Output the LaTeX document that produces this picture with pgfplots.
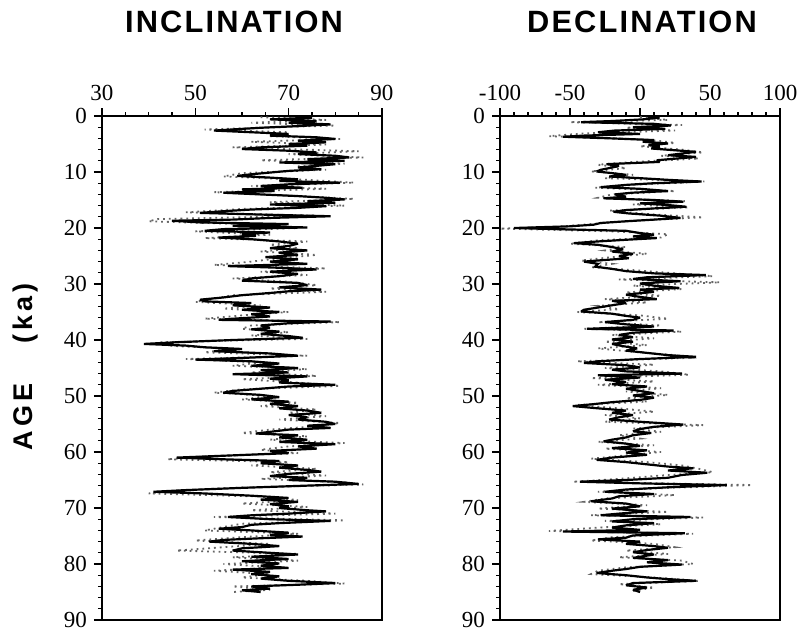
\documentclass[border=0pt]{standalone}
\usepackage{fontspec}
\setmainfont{Liberation Serif}
\newfontfamily\helsp[LetterSpace=7]{Liberation Sans}
\newfontfamily\helspp[LetterSpace=15]{Liberation Sans}
\usepackage{pgfplots}
\usepackage{pgfplotstable}
\pgfplotsset{compat=1.18}

\pgfplotstableread{
a v
0.0 73
0.3 75
0.6 66
0.9 76
1.2 70
1.5 79
1.8 72
2.1 64
2.4 58
2.6 54
2.9 62
3.2 70
3.5 66
3.8 76
4.1 80
4.4 72
4.7 78
5.0 70
5.3 74
5.6 64
5.9 60
6.2 70
6.5 76
6.8 72
7.1 80
7.4 83
7.7 74
8.0 82
8.3 68
8.6 80
8.9 76
9.2 72
9.5 77
9.8 70
10.1 66
10.4 62
10.7 59
11.0 66
11.3 72
11.6 68
11.9 81
12.2 70
12.5 64
12.8 73
13.1 60
13.4 67
13.7 56
14.0 64
14.3 72
14.6 78
14.9 82
15.2 74
15.5 80
15.8 66
16.1 78
16.4 72
16.7 62
17.0 56
17.3 51
17.6 64
17.9 79
18.2 66
18.5 58
18.7 45
19.0 51
19.3 70
19.6 58
19.9 74
20.2 56
20.5 52
20.8 66
21.1 60
21.4 63
21.7 55
22.0 62
22.4 68
22.8 72
23.2 70
23.6 66
24.0 74
24.4 68
24.8 72
25.2 65
25.6 72
26.0 66
26.4 74
26.8 57
27.1 68
27.4 76
27.8 66
28.2 72
28.6 68
29.0 62
29.4 60
29.8 72
30.2 74
30.6 68
31.0 77
31.3 70
31.6 66
32.0 60
32.4 56
32.8 51
33.1 52
33.4 62
33.8 58
34.2 66
34.6 60
35.0 68
35.4 62
35.8 66
36.2 58
36.4 55
36.7 79
37.0 70
37.4 64
37.8 66
38.1 62
38.5 68
38.9 64
39.3 70
39.6 73
40.0 58
40.4 46
40.7 39
41.0 48
41.3 52
41.6 60
42.0 54
42.4 66
42.8 72
43.2 60
43.5 50
43.8 62
44.2 68
44.6 62
45.0 72
45.4 64
45.8 70
46.1 58
46.5 74
46.9 66
47.2 70
47.6 68
48.0 80
48.3 70
48.7 64
49.1 58
49.4 56
49.8 64
50.2 68
50.6 62
51.0 70
51.4 66
51.8 72
52.2 68
52.6 74
53.0 77
53.4 70
53.8 74
54.2 72
54.6 78
55.0 80
55.3 74
55.7 79
56.0 70
56.4 66
56.7 63
57.0 72
57.4 68
57.8 74
58.2 68
58.6 80
59.0 72
59.4 76
59.8 66
60.2 70
60.6 58
61.0 46
61.3 56
61.6 68
62.0 64
62.4 72
62.8 68
63.2 74
63.5 77
63.9 70
64.3 66
64.6 74
65.0 70
65.3 80
65.7 85
66.0 74
66.4 60
66.8 48
67.1 41
67.4 52
67.8 62
68.2 70
68.5 64
68.9 72
69.3 66
69.7 70
70.0 68
70.4 74
70.6 78
71.0 70
71.3 62
71.6 57
72.0 66
72.3 79
72.7 68
73.0 62
73.4 60
73.7 55
74.0 62
74.4 70
74.8 66
75.1 73
75.4 64
75.7 56
76.0 53
76.4 62
76.8 68
77.2 60
77.6 58
78.0 66
78.3 72
78.7 62
79.1 70
79.5 60
79.9 68
80.3 64
80.7 70
81.0 58
81.4 66
81.8 62
82.2 68
82.6 64
83.0 70
83.4 80
83.7 72
84.0 62
84.4 66
84.7 60
85.0 64
}\incmain

\pgfplotstableread{
a v
0.2 64
0.7 78
1.2 62
1.7 80
2.4 52
2.9 70
3.6 66
4.1 81
4.6 62
5.1 78
5.6 58
6.3 85
6.8 70
7.4 86
7.9 64
8.5 82
9.0 72
9.6 78
10.2 60
10.8 56
11.4 74
11.9 84
12.5 62
13.0 78
13.6 54
14.2 70
14.8 84
15.4 66
16.0 82
16.6 60
17.2 48
17.8 76
18.4 42
18.8 40
19.4 64
20.0 72
20.6 50
21.2 66
21.8 52
22.4 74
23.0 66
23.6 72
24.2 64
24.8 76
25.4 68
26.0 62
26.6 54
27.2 78
27.8 64
28.4 74
29.0 58
29.6 70
30.2 76
30.8 66
31.4 78
32.0 58
32.6 54
33.2 50
33.8 64
34.4 56
35.0 70
35.6 60
36.2 52
36.8 81
37.4 62
38.0 60
38.6 70
39.2 62
39.8 74
40.4 42
41.0 44
41.6 58
42.2 52
42.8 74
43.4 48
44.0 64
44.6 58
45.2 74
45.8 62
46.4 76
47.0 60
47.6 72
48.2 81
48.8 60
49.4 54
50.0 66
50.6 60
51.2 72
51.8 64
52.4 76
53.0 70
53.6 78
54.2 68
54.8 81
55.4 76
56.0 66
56.6 60
57.2 74
57.8 66
58.4 82
59.0 70
59.6 64
60.2 72
60.8 52
61.3 44
61.8 70
62.4 62
63.0 76
63.6 66
64.2 78
64.8 64
65.4 82
65.8 86
66.4 58
67.0 44
67.4 40
68.0 66
68.6 72
69.2 60
69.8 74
70.4 62
71.0 80
71.6 54
72.2 82
72.8 60
73.4 56
74.0 52
74.6 72
75.2 60
75.8 50
76.4 66
77.0 56
77.6 46
78.2 72
78.8 58
79.4 72
80.0 56
80.6 68
81.2 54
81.8 66
82.4 60
83.0 74
83.5 82
84.0 58
84.6 66
85.0 58
}\incgray

\pgfplotstableread{
a v
0.0 5
0.3 14
0.6 2
0.9 -20
1.1 -42
1.4 10
1.7 22
2.0 -5
2.3 18
2.6 -18
2.9 -30
3.2 0
3.5 -40
3.7 -55
4.0 -20
4.3 10
4.6 2
4.9 20
5.2 6
5.5 14
5.8 8
6.1 24
6.4 40
6.7 30
7.0 20
7.3 40
7.6 26
7.9 12
8.2 14
8.6 -24
8.9 -15
9.2 -20
9.6 -28
9.9 -31
10.2 -20
10.5 -10
10.8 -22
11.1 0
11.4 20
11.7 44
12.0 10
12.3 -10
12.7 -28
13.0 0
13.4 20
13.7 -6
14.0 -18
14.4 -10
14.7 -26
15.0 10
15.3 31
15.6 0
15.9 20
16.2 33
16.5 10
16.8 -10
17.1 -19
17.4 -8
17.8 15
18.2 29
18.5 10
18.8 -10
19.1 -28
19.4 -33
19.7 -50
20.0 -90
20.2 -60
20.5 -10
20.9 0
21.2 10
21.5 -5
21.8 12
22.1 -10
22.4 -30
22.7 -47
23.0 -30
23.4 -20
23.8 -12
24.2 -20
24.6 -5
25.0 -15
25.4 -8
25.8 -30
26.0 -40
26.4 -30
26.9 -32
27.3 -20
27.7 -10
28.1 10
28.4 47
28.8 5
29.1 -5
29.5 29
29.9 0
30.3 10
30.7 28
31.0 0
31.4 10
31.9 -10
32.3 0
32.7 12
33.0 -20
33.4 -10
33.8 -20
34.2 -30
34.6 -40
34.9 -42
35.3 -20
35.7 -10
36.0 0
36.4 -5
36.8 -25
37.2 -10
37.6 10
38.0 -38
38.3 24
38.7 -5
39.1 -15
39.5 -5
39.9 -20
40.3 -5
40.7 -20
41.1 -12
41.5 -2
41.9 -10
42.3 5
42.7 20
43.0 40
43.4 0
43.8 -30
44.1 -40
44.5 -10
44.9 0
45.3 -20
45.6 -10
46.0 30
46.3 -30
46.7 0
47.1 -25
47.5 -10
47.9 -20
48.3 5
48.7 -10
49.1 0
49.5 10
49.9 -5
50.3 10
50.7 0
51.1 -20
51.5 -35
51.8 -48
52.2 -30
52.6 -10
53.0 -20
53.4 -5
53.8 -15
54.2 -22
54.6 0
55.1 31
55.5 10
55.9 0
56.3 -5
56.6 8
57.0 -5
57.4 -10
57.8 -20
58.1 -26
58.5 -10
58.9 0
59.3 -20
59.7 5
60.1 -10
60.5 5
61.0 -20
61.4 -31
61.8 -10
62.2 5
62.6 20
62.9 38
63.3 20
63.7 48
64.1 30
64.6 20
65.0 -10
65.3 -43
65.6 0
65.9 62
66.3 20
66.7 -10
67.1 -25
67.5 10
67.9 -15
68.3 -20
68.8 -35
69.2 -10
69.7 0
70.1 -20
70.6 5
71.0 -15
71.3 -28
71.6 36
72.0 -5
72.4 -20
72.7 10
73.1 -10
73.5 -20
73.9 0
74.2 -55
74.5 32
74.9 -5
75.3 -10
75.6 -30
76.0 0
76.4 -10
76.8 10
77.1 20
77.5 5
77.9 -5
78.3 10
78.9 -5
79.3 20
79.7 5
80.1 30
80.5 0
80.9 -10
81.2 -20
81.6 -31
82.0 -10
82.4 5
82.7 20
83.0 40
83.4 -5
83.8 -10
84.2 5
84.6 -5
85.0 0
}\decmain

\pgfplotstableread{
a v
0.2 0
0.7 20
1.1 -50
1.6 30
2.1 -10
2.6 25
3.1 -40
3.6 -65
4.2 5
4.8 25
5.4 0
6.0 30
6.5 45
7.1 15
7.6 42
8.2 -5
8.7 -30
9.3 -10
9.9 -35
10.5 -5
11.1 -25
11.7 46
12.3 -5
12.8 -32
13.4 25
14.0 -20
14.6 -30
15.2 32
15.8 -5
16.3 35
16.9 -22
17.5 5
18.1 45
18.7 -5
19.3 -35
19.8 -60
20.1 -100
20.6 -20
21.1 20
21.7 15
22.2 -30
22.8 -50
23.4 -10
24.0 -25
24.6 5
25.2 -20
25.8 -42
26.4 -20
27.0 -35
27.6 0
28.2 30
28.6 52
29.2 -15
29.7 57
30.3 -5
30.9 30
31.5 -10
32.1 15
32.7 -25
33.3 5
33.9 -30
34.5 -15
35.0 -45
35.6 0
36.2 20
36.8 -30
37.4 15
38.0 -40
38.5 30
39.1 -20
39.7 10
40.3 -25
40.9 5
41.5 -30
42.1 -5
42.7 25
43.2 35
43.8 -45
44.4 10
45.0 -25
45.6 15
46.2 35
46.8 -35
47.4 10
48.0 -30
48.6 15
49.2 -10
49.8 20
50.4 -10
51.0 5
51.6 -45
52.2 -15
52.8 10
53.4 -25
54.0 0
54.6 -25
55.2 45
55.8 -5
56.4 15
57.0 -15
57.6 0
58.2 -30
58.8 10
59.4 -25
60.0 15
60.6 -10
61.2 -35
61.8 5
62.4 30
63.0 42
63.6 52
64.2 15
64.8 -15
65.3 -48
65.9 80
66.5 10
67.1 -30
67.7 25
68.3 -25
68.9 -40
69.5 5
70.1 -30
70.7 20
71.3 -35
71.7 45
72.3 -25
72.9 15
73.5 -30
74.1 -65
74.6 38
75.2 -20
75.8 -35
76.4 10
77.0 25
77.6 -10
78.2 20
78.8 -15
79.4 30
80.0 38
80.6 -10
81.2 -30
81.8 -35
82.4 10
83.0 42
83.6 -15
84.2 10
84.8 -5
}\decgray

\pgfplotsset{
  panel/.style={
    scale only axis, width=140pt, height=252pt,
    anchor=south west,
    y dir=reverse, ymin=0, ymax=90,
    ytick={0,10,...,90}, minor y tick num=4,
    xtick pos=upper, ytick pos=left,
    xticklabel pos=upper,
    tick align=outside,
    major tick length=4pt, minor tick length=2pt,
    axis line style={line width=0.9pt},
    every tick/.style={black, line width=0.6pt},
    tick label style={font=\fontsize{11.5}{12}\selectfont},
    /pgf/number format/assume math mode=true,
  },
  mainline/.style={black, line width=1.1pt, line join=miter, miter limit=3},
  grayline/.style={black!60, dotted, line width=0.9pt},
}

\begin{document}
\begin{tikzpicture}
\useasboundingbox (0,0) rectangle (400.5pt,316.5pt);
\begin{axis}[panel, at={(51pt,6.5pt)},
  xmin=30, xmax=90, xtick={30,50,70,90}, minor x tick num=3]
  \addplot[grayline] table[x=v, y=a] {\incgray};
  \addplot[mainline] table[x=v, y=a] {\incmain};
\end{axis}
\begin{axis}[panel, at={(250pt,6.5pt)},
  xmin=-100, xmax=100, xtick={-100,-50,0,50,100},
  xticklabels={-100,-50,0,50,100}, minor x tick num=4]
  \addplot[grayline] table[x=v, y=a] {\decgray};
  \addplot[mainline] table[x=v, y=a] {\decmain};
\end{axis}
\node[anchor=base, font=\helsp\bfseries\fontsize{15.4}{16}\selectfont] at (117pt,300pt) {INCLINATION};
\node[anchor=base, font=\helsp\bfseries\fontsize{15.4}{16}\selectfont] at (321pt,300pt) {DECLINATION};
\node[rotate=90, font=\helspp\bfseries\fontsize{13.5}{14}\selectfont] at (13pt,133pt) {AGE\hspace{20pt}(ka)};
\end{tikzpicture}
\end{document}
